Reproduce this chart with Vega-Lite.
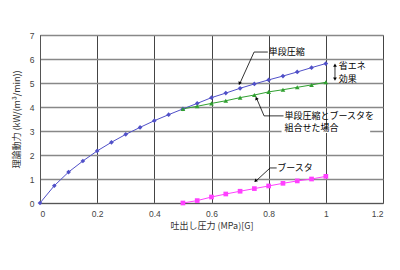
{
  "$schema": "https://vega.github.io/schema/vega-lite/v6.json",
  "width": 343,
  "height": 168,
  "autosize": {"type": "none"},
  "padding": {"left": 40, "top": 35, "right": 17, "bottom": 67},
  "background": "white",
  "config": {
    "view": {"stroke": "#888888", "strokeWidth": 1},
    "font": "Noto Sans CJK JP",
    "axis": {"labelFont": "Liberation Sans", "labelFontSize": 8.5, "labelColor": "#444444", "titleFont": "Noto Sans CJK JP", "titleFontSize": 9, "titleFontWeight": "normal", "titleColor": "#333333", "ticks": false, "domainColor": "#555555", "labelPadding": 6, "labelOverlap": false}
  },
  "datasets": {
    "series": [
      {"p": 0.0, "v": 0.0, "s": "単段圧縮"},
      {"p": 0.05, "v": 0.72, "s": "単段圧縮"},
      {"p": 0.1, "v": 1.29, "s": "単段圧縮"},
      {"p": 0.15, "v": 1.75, "s": "単段圧縮"},
      {"p": 0.2, "v": 2.17, "s": "単段圧縮"},
      {"p": 0.25, "v": 2.53, "s": "単段圧縮"},
      {"p": 0.3, "v": 2.86, "s": "単段圧縮"},
      {"p": 0.35, "v": 3.15, "s": "単段圧縮"},
      {"p": 0.4, "v": 3.43, "s": "単段圧縮"},
      {"p": 0.45, "v": 3.68, "s": "単段圧縮"},
      {"p": 0.5, "v": 3.92, "s": "単段圧縮"},
      {"p": 0.55, "v": 4.15, "s": "単段圧縮"},
      {"p": 0.6, "v": 4.39, "s": "単段圧縮"},
      {"p": 0.65, "v": 4.58, "s": "単段圧縮"},
      {"p": 0.7, "v": 4.78, "s": "単段圧縮"},
      {"p": 0.75, "v": 4.96, "s": "単段圧縮"},
      {"p": 0.8, "v": 5.13, "s": "単段圧縮"},
      {"p": 0.85, "v": 5.29, "s": "単段圧縮"},
      {"p": 0.9, "v": 5.46, "s": "単段圧縮"},
      {"p": 0.95, "v": 5.64, "s": "単段圧縮"},
      {"p": 1.0, "v": 5.81, "s": "単段圧縮"},
      {"p": 0.5, "v": 3.92, "s": "組合せ"},
      {"p": 0.55, "v": 4.03, "s": "組合せ"},
      {"p": 0.6, "v": 4.15, "s": "組合せ"},
      {"p": 0.65, "v": 4.26, "s": "組合せ"},
      {"p": 0.7, "v": 4.39, "s": "組合せ"},
      {"p": 0.75, "v": 4.5, "s": "組合せ"},
      {"p": 0.8, "v": 4.63, "s": "組合せ"},
      {"p": 0.85, "v": 4.72, "s": "組合せ"},
      {"p": 0.9, "v": 4.82, "s": "組合せ"},
      {"p": 0.95, "v": 4.92, "s": "組合せ"},
      {"p": 1.0, "v": 5.03, "s": "組合せ"},
      {"p": 0.5, "v": 0.0, "s": "ブースタ"},
      {"p": 0.55, "v": 0.1, "s": "ブースタ"},
      {"p": 0.6, "v": 0.25, "s": "ブースタ"},
      {"p": 0.65, "v": 0.375, "s": "ブースタ"},
      {"p": 0.7, "v": 0.49, "s": "ブースタ"},
      {"p": 0.75, "v": 0.6, "s": "ブースタ"},
      {"p": 0.8, "v": 0.71, "s": "ブースタ"},
      {"p": 0.85, "v": 0.82, "s": "ブースタ"},
      {"p": 0.9, "v": 0.92, "s": "ブースタ"},
      {"p": 0.95, "v": 1.0, "s": "ブースタ"},
      {"p": 1.0, "v": 1.11, "s": "ブースタ"}
    ],
    "labels": [
      {"p": 0.8, "v": 6.29, "t": "単段圧縮"},
      {"p": 1.045, "v": 5.72, "t": "省エネ"},
      {"p": 1.045, "v": 5.17, "t": "効果"},
      {"p": 0.855, "v": 3.63, "t": "単段圧縮とブースタを"},
      {"p": 0.855, "v": 3.13, "t": "組合せた場合"},
      {"p": 0.83, "v": 1.46, "t": "ブースタ"}
    ],
    "leaders": [
      {"p": 0.749, "v": 6.29, "p2": 0.797, "v2": 6.29},
      {"p": 0.749, "v": 6.29, "p2": 0.698, "v2": 4.95},
      {"p": 0.784, "v": 3.63, "p2": 0.852, "v2": 3.63},
      {"p": 0.784, "v": 3.63, "p2": 0.757, "v2": 4.38},
      {"p": 0.805, "v": 1.46, "p2": 0.828, "v2": 1.46},
      {"p": 0.805, "v": 1.46, "p2": 0.754, "v2": 0.9},
      {"p": 1.032, "v": 5.72, "p2": 1.032, "v2": 5.2}
    ],
    "heads": [
      {"p": 0.698, "v": 4.98, "a": 204},
      {"p": 0.757, "v": 4.36, "a": 337},
      {"p": 0.754, "v": 0.92, "a": 227},
      {"p": 1.032, "v": 5.74, "a": 0},
      {"p": 1.032, "v": 5.16, "a": 180}
    ],
    "mask": [
      {"p": 0.845, "p2": 1.155, "v": 2.92, "v2": 3.06}
    ]
  },
  "encoding": {
    "x": {"field": "p", "type": "quantitative", "scale": {"domain": [0, 1.2], "nice": false}, "axis": {"values": [0, 0.2, 0.4, 0.6, 0.8, 1, 1.2], "format": ".1~f", "title": "吐出し圧力 (MPa)[G]", "grid": true, "gridColor": "#444444", "gridWidth": 1, "titlePadding": 4}},
    "y": {"field": "v", "type": "quantitative", "scale": {"domain": [0, 7], "nice": false}, "axis": {"tickCount": 7, "tickMinStep": 1, "title": "理論動力 (kW/(m³/min))", "grid": true, "gridColor": "#888888", "gridWidth": 1.5, "titlePadding": 8}}
  },
  "layer": [
    {
      "data": {"name": "series"},
      "mark": {"type": "line", "strokeWidth": 1},
      "encoding": {
        "color": {"field": "s", "type": "nominal", "scale": {"domain": ["単段圧縮", "組合せ", "ブースタ"], "range": ["#5050c8", "#30a030", "#ff40ff"]}, "legend": null},
        "detail": {"field": "s"}
      }
    },
    {
      "data": {"name": "mask"},
      "mark": {"type": "rect", "fill": "white"},
      "encoding": {
        "x2": {"field": "p2"},
        "y2": {"field": "v2"}
      }
    },
    {
      "data": {"name": "series"},
      "mark": {"type": "point", "filled": true, "opacity": 1},
      "encoding": {
        "color": {"field": "s", "type": "nominal", "scale": {"domain": ["単段圧縮", "組合せ", "ブースタ"], "range": ["#000080", "#008000", "#ff00ff"]}, "legend": null},
        "shape": {"field": "s", "type": "nominal", "scale": {"domain": ["単段圧縮", "組合せ", "ブースタ"], "range": ["diamond", "triangle-up", "square"]}, "legend": null},
        "size": {"field": "s", "type": "nominal", "scale": {"domain": ["単段圧縮", "組合せ", "ブースタ"], "range": [22, 22, 26]}, "legend": null}
      }
    },
    {
      "data": {"name": "leaders"},
      "mark": {"type": "rule", "color": "black", "strokeWidth": 0.8},
      "encoding": {
        "x2": {"field": "p2"},
        "y2": {"field": "v2"}
      }
    },
    {
      "data": {"name": "heads"},
      "mark": {"type": "point", "shape": "triangle-up", "filled": true, "color": "black", "size": 14, "opacity": 1},
      "encoding": {
        "angle": {"field": "a", "type": "quantitative", "scale": null}
      }
    },
    {
      "data": {"name": "labels"},
      "mark": {"type": "text", "align": "left", "baseline": "middle", "fontSize": 9, "color": "black", "font": "Noto Sans CJK JP"},
      "encoding": {
        "text": {"field": "t"}
      }
    }
  ]
}
